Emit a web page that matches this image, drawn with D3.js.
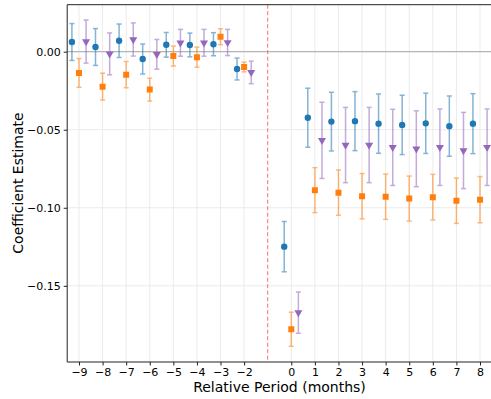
<!DOCTYPE html>
<html><head><meta charset="utf-8">
<script src="https://cdn.jsdelivr.net/npm/d3@7"></script>
<style>body{margin:0;background:#fff;} svg{display:block;font-family:"DejaVu Sans",sans-serif;}</style>
</head><body>
<script>
const periods = [-9,-8,-7,-6,-5,-4,-3,-2,0,1,2,3,4,5,6,7,8];
const xTicks = [-9,-8,-7,-6,-5,-4,-3,-2,0,1,2,3,4,5,6,7,8];
const yTicks = [0, -0.05, -0.10, -0.15];

const blueEst = [0.0062,0.0030,0.0070,-0.0047,0.0044,0.0043,0.0048,-0.0111,-0.1249,-0.0423,-0.0448,-0.0445,-0.0461,-0.0469,-0.0459,-0.0477,-0.0461];
const blueErr = [0.0118,0.0118,0.0107,0.0096,0.0079,0.0076,0.0074,0.0070,0.0161,0.0189,0.0188,0.0189,0.0190,0.0190,0.0193,0.0193,0.0192];
const orangeEst = [-0.0136,-0.0224,-0.0147,-0.0243,-0.0028,-0.0035,0.0096,-0.0098,-0.1778,-0.0887,-0.0903,-0.0926,-0.0929,-0.0941,-0.0932,-0.0955,-0.0948];
const orangeErr = [0.0092,0.0086,0.0084,0.0073,0.0064,0.0064,0.0051,0.0031,0.0109,0.0144,0.0145,0.0145,0.0145,0.0144,0.0146,0.0145,0.0148];
const purpleEst = [0.0065,-0.0014,0.0078,-0.0017,0.0057,0.0057,0.0059,-0.0133,-0.1672,-0.0568,-0.0598,-0.0598,-0.0613,-0.0622,-0.0612,-0.0633,-0.0612];
const purpleErr = [0.0138,0.0134,0.0106,0.0095,0.0086,0.0086,0.0084,0.0072,0.0132,0.0244,0.0241,0.0241,0.0244,0.0243,0.0245,0.0244,0.0245];

const series = [
  {name:"blue", color:"#1f77b4", offset:-0.3, est:blueEst, err:blueErr, marker:"circle"},
  {name:"orange", color:"#ff7f0e", offset:0, est:orangeEst, err:orangeErr, marker:"square"},
  {name:"purple", color:"#9467bd", offset:0.3, est:purpleEst, err:purpleErr, marker:"triangle"}
];

const W = 491, H = 399;
const m = {left:67.2, top:4.7, right:-0.8, bottom:37};
const svg = d3.select("body").append("svg").attr("width",W).attr("height",H);
const x = d3.scaleLinear().domain([-9.5, 8.5]).range([m.left, W - m.right]);
const y = d3.scaleLinear().domain([0.0301, -0.1988]).range([m.top, H - m.bottom]);

svg.append("defs").append("clipPath").attr("id","clip").append("rect")
  .attr("x",m.left).attr("y",m.top).attr("width",W-m.right-m.left).attr("height",H-m.bottom-m.top);

const g = svg.append("g").attr("clip-path","url(#clip)");
g.selectAll(".vg").data(xTicks).join("line")
  .attr("x1",d=>x(d)).attr("x2",d=>x(d)).attr("y1",m.top).attr("y2",H-m.bottom)
  .attr("stroke","#ebebeb").attr("stroke-width",1);
g.selectAll(".hg").data(yTicks).join("line")
  .attr("x1",m.left).attr("x2",W).attr("y1",d=>y(d)).attr("y2",d=>y(d))
  .attr("stroke","#ebebeb").attr("stroke-width",1);
g.append("line").attr("x1",m.left).attr("x2",W).attr("y1",y(0)).attr("y2",y(0))
  .attr("stroke","#b5b5b5").attr("stroke-width",1.2);
g.append("line").attr("x1",x(-1)).attr("x2",x(-1)).attr("y1",m.top).attr("y2",H-m.bottom)
  .attr("stroke","#ff6b6b").attr("stroke-width",1).attr("stroke-dasharray","4,2.5");

const sym = {circle:d3.symbolCircle, square:d3.symbolSquare, triangle:d3.symbolTriangle};
const size = {circle:32, square:36, triangle:28};
series.forEach(s=>{
  const sg = g.append("g");
  const data = periods.map((p,i)=>({p, e:s.est[i], r:s.err[i]}));
  const eb = sg.selectAll("g.eb").data(data).join("g").attr("opacity",0.55);
  eb.append("line").attr("x1",d=>x(d.p+s.offset)).attr("x2",d=>x(d.p+s.offset))
    .attr("y1",d=>y(d.e+d.r)).attr("y2",d=>y(d.e-d.r)).attr("stroke",s.color).attr("stroke-width",1.5);
  eb.append("line").attr("x1",d=>x(d.p+s.offset)-2.5).attr("x2",d=>x(d.p+s.offset)+2.5)
    .attr("y1",d=>y(d.e+d.r)).attr("y2",d=>y(d.e+d.r)).attr("stroke",s.color).attr("stroke-width",1.5);
  eb.append("line").attr("x1",d=>x(d.p+s.offset)-2.5).attr("x2",d=>x(d.p+s.offset)+2.5)
    .attr("y1",d=>y(d.e-d.r)).attr("y2",d=>y(d.e-d.r)).attr("stroke",s.color).attr("stroke-width",1.5);
  sg.selectAll("path.mk").data(data).join("path")
    .attr("d", d3.symbol().type(sym[s.marker]).size(size[s.marker]))
    .attr("transform",d=>`translate(${x(d.p+s.offset)},${y(d.e)})${s.marker==="triangle"?" rotate(180)":""}`)
    .attr("fill",s.color);
});

svg.append("line").attr("x1",m.left).attr("x2",m.left).attr("y1",m.top).attr("y2",H-m.bottom).attr("stroke","#222").attr("stroke-width",1);
svg.append("line").attr("x1",m.left).attr("x2",W).attr("y1",H-m.bottom).attr("y2",H-m.bottom).attr("stroke","#222").attr("stroke-width",1);
svg.append("line").attr("x1",m.left).attr("x2",W).attr("y1",m.top).attr("y2",m.top).attr("stroke","#222").attr("stroke-width",1);

const fmtY = d => d3.format(".2f")(d).replace("-","\u2212");
const fmtX = d => String(d).replace("-","\u2212");
const xa = svg.append("g").attr("transform",`translate(0,${H-m.bottom})`)
  .call(d3.axisBottom(x).tickValues(xTicks).tickFormat(fmtX).tickSizeOuter(0).tickSize(3.5).tickPadding(3));
xa.select(".domain").remove();
xa.selectAll("text").attr("font-size",11).attr("fill","#000").attr("font-family","DejaVu Sans");
xa.selectAll("line").attr("stroke","#222");
const ya = svg.append("g").attr("transform",`translate(${m.left},0)`)
  .call(d3.axisLeft(y).tickValues(yTicks).tickFormat(fmtY).tickSizeOuter(0).tickSize(3.5).tickPadding(3));
ya.select(".domain").remove();
ya.selectAll("text").attr("font-size",11).attr("fill","#000").attr("font-family","DejaVu Sans");
ya.selectAll("line").attr("stroke","#222");

svg.append("text").attr("x",(m.left+W-m.right)/2).attr("y",392).attr("text-anchor","middle")
  .attr("font-size",14).attr("fill","#000").text("Relative Period (months)");
svg.append("text").attr("transform",`translate(23,183) rotate(-90)`)
  .attr("text-anchor","middle").attr("font-size",14).attr("fill","#000").text("Coefficient Estimate");
</script>
</body></html>
